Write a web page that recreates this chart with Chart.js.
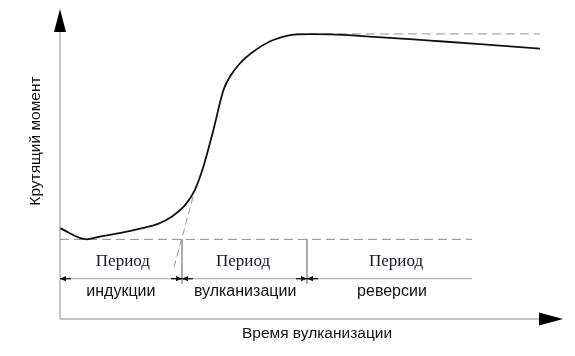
<!DOCTYPE html>
<html>
<head>
<meta charset="utf-8">
<script src="https://cdn.jsdelivr.net/npm/chart.js@4/dist/chart.umd.min.js"></script>
<style>
  html, body { margin: 0; padding: 0; background: #fff; }
  canvas { display: block; }
</style>
</head>
<body>
<canvas id="c" width="575" height="356"></canvas>
<script>
// ---- data (time 0..100, torque 0..100, schematic units) ----
const timeValues   = [0, 5.3, 7.6, 12.3, 16.9, 19.5, 22.2, 24.9, 26.8, 28.5, 30.5, 32.5, 33.8, 35.8, 38.4, 41.7, 45.1, 47.1, 49.7, 53.7, 61.6, 73.6, 83.5, 95.4];
const torqueValues = [29.3, 25.7, 26.45, 27.9, 29.5, 30.7, 33.0, 36.8, 41.6, 49.1, 61.0, 73.9, 78.2, 82.5, 86.2, 89.5, 91.3, 91.8, 91.9, 91.8, 91.1, 89.8, 88.7, 87.2];
const minTorque = 25.7;
const maxTorque = 92.0;
const minLineRange = [0, 81.9];
const maxLineRange = [46.9, 95.4];
const tangentTime   = [22.66, 27.04];
const tangentTorque = [16.7, 42.9];
const periodBounds = [0, 24.25, 49.1, 81.9];
const periodTitle = "Период";
const periodNames = ["индукции", "вулканизации", "реверсии"];
const periodTitleX = [12.5, 36.4, 66.8];
const periodNameX  = [12.1, 36.8, 66.0];
const periodRowTorque = 13.0;
const periodTitleTorque = 18.4;
const periodNameTorque = 9.0;
const separatorBottom = 11.3;
const xTitle = "Время вулканизации";
const yTitle = "Крутящий момент";

const pts = (xs, ys) => xs.map((x, i) => ({x, y: ys[i]}));

const datasets = [
  { data: pts(timeValues, torqueValues), borderColor: '#111', borderWidth: 1.8, cubicInterpolationMode: 'monotone' },
  { data: pts(minLineRange, [minTorque, minTorque]), borderColor: '#8c8c8c', borderWidth: 1, borderDash: [9, 5] },
  { data: pts(maxLineRange, [maxTorque, maxTorque]), borderColor: '#a8a8a8', borderWidth: 1.2, borderDash: [9, 5] },
  { data: pts(tangentTime, tangentTorque), borderColor: '#888', borderWidth: 0.9, borderDash: [7, 4] },
  { data: pts(minLineRange, [periodRowTorque, periodRowTorque]), borderColor: '#a0a0a0', borderWidth: 1 },
  { data: pts([periodBounds[1], periodBounds[1]], [minTorque, separatorBottom]), borderColor: '#a0a0a0', borderWidth: 1 },
  { data: pts([periodBounds[2], periodBounds[2]], [minTorque, separatorBottom]), borderColor: '#a0a0a0', borderWidth: 1 }
];
datasets.forEach(d => { d.showLine = true; d.pointRadius = 0; d.fill = false; });

const decor = {
  id: 'decor',
  afterDatasetsDraw(chart) {
    const ctx = chart.ctx, xs = chart.scales.x, ys = chart.scales.y, ca = chart.chartArea;
    const X = v => xs.getPixelForValue(v), Y = v => ys.getPixelForValue(v);
    ctx.save();
    // axes
    ctx.strokeStyle = '#8c8c8c'; ctx.lineWidth = 1;
    ctx.beginPath();
    ctx.moveTo(ca.left, ca.top + 20); ctx.lineTo(ca.left, ca.bottom);
    ctx.lineTo(ca.right - 22, ca.bottom);
    ctx.stroke();
    ctx.fillStyle = '#000';
    ctx.beginPath();
    ctx.moveTo(ca.left, ca.top); ctx.lineTo(ca.left - 6, ca.top + 23); ctx.lineTo(ca.left + 6, ca.top + 23); ctx.closePath(); ctx.fill();
    ctx.beginPath();
    ctx.moveTo(ca.right, ca.bottom); ctx.lineTo(ca.right - 24, ca.bottom - 6.5); ctx.lineTo(ca.right - 24, ca.bottom + 6.5); ctx.closePath(); ctx.fill();
    // dimension arrows
    const rowY = Y(periodRowTorque);
    const arrow = (tip, dir) => { // dir: -1 pointing left, +1 pointing right
      const tx = X(tip);
      ctx.strokeStyle = '#111'; ctx.lineWidth = 1.3;
      ctx.beginPath(); ctx.moveTo(tx, rowY); ctx.lineTo(tx - dir * 11, rowY); ctx.stroke();
      ctx.fillStyle = '#111';
      ctx.beginPath(); ctx.moveTo(tx, rowY); ctx.lineTo(tx - dir * 6, rowY - 2.6); ctx.lineTo(tx - dir * 6, rowY + 2.6); ctx.closePath(); ctx.fill();
    };
    arrow(periodBounds[0], -1) ;
    arrow(periodBounds[1], 1); arrow(periodBounds[1], -1);
    arrow(periodBounds[2], 1); arrow(periodBounds[2], -1);
    // period texts
    ctx.textAlign = 'center'; ctx.textBaseline = 'middle';
    ctx.font = '17px "Liberation Serif", "Times New Roman", serif';
    ctx.fillStyle = '#15153a';
    periodTitleX.forEach(t => ctx.fillText(periodTitle, X(t), Y(periodTitleTorque)));
    ctx.font = '16px "Liberation Sans", Arial, sans-serif';
    ctx.fillStyle = '#111';
    periodNames.forEach((n, i) => ctx.fillText(n, X(periodNameX[i]), Y(periodNameTorque)));
    // axis titles
    ctx.font = '15.5px "Liberation Sans", Arial, sans-serif';
    ctx.fillText(xTitle, 317, 334);
    ctx.translate(36, 141);
    ctx.rotate(-Math.PI / 2);
    ctx.fillText(yTitle, 0, 0);
    ctx.restore();
  }
};

new Chart(document.getElementById('c'), {
  type: 'scatter',
  data: { datasets },
  options: {
    responsive: false,
    animation: false,
    layout: { padding: { left: 60, right: 12, top: 9, bottom: 37 } },
    plugins: { legend: { display: false }, tooltip: { enabled: false } },
    scales: {
      x: { type: 'linear', min: 0, max: 100, display: false },
      y: { type: 'linear', min: 0, max: 100, display: false }
    }
  },
  plugins: [decor]
});
</script>
</body>
</html>
